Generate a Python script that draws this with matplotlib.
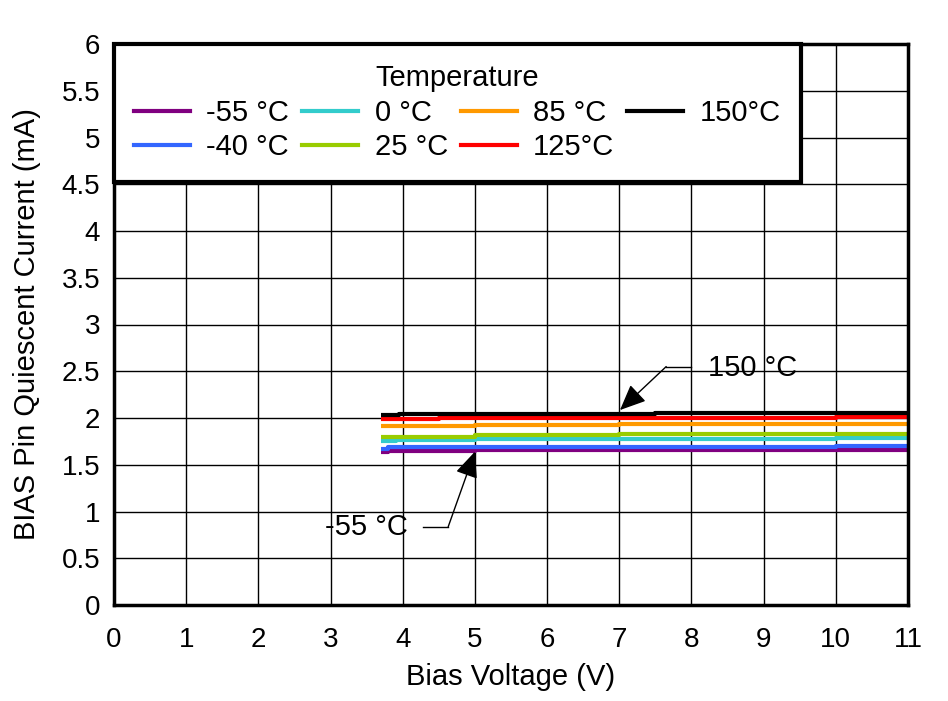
import matplotlib
matplotlib.use("Agg")
import matplotlib.pyplot as plt
from matplotlib.lines import Line2D

plt.rcParams['font.family'] = ['Liberation Sans', 'DejaVu Sans']

# Data (step-wise measured curves), x in V, y in mA
x_m55 = [3.7, 3.8, 5.0, 10.0, 11.0]
y_m55 = [1.636, 1.651, 1.658, 1.662, 1.662]
x_m40 = [3.7, 3.8, 10.0, 11.0]
y_m40 = [1.665, 1.685, 1.700, 1.700]
x_0 = [3.7, 3.9, 5.0, 10.0, 11.0]
y_0 = [1.754, 1.768, 1.775, 1.790, 1.790]
x_25 = [3.7, 5.0, 7.0, 11.0]
y_25 = [1.800, 1.815, 1.830, 1.830]
x_85 = [3.7, 5.0, 7.0, 11.0]
y_85 = [1.918, 1.930, 1.940, 1.940]
x_125 = [3.7, 4.5, 10.0, 11.0]
y_125 = [1.985, 2.005, 2.012, 2.012]
x_150 = [3.7, 3.95, 4.5, 7.5, 11.0]
y_150 = [2.030, 2.038, 2.046, 2.058, 2.058]

series = [
    ("-55 °C", x_m55, y_m55, "#800080"),
    ("-40 °C", x_m40, y_m40, "#3366FF"),
    ("0 °C", x_0, y_0, "#33CCCC"),
    ("25 °C", x_25, y_25, "#99CC00"),
    ("85 °C", x_85, y_85, "#FF9900"),
    ("125°C", x_125, y_125, "#FF0000"),
    ("150°C", x_150, y_150, "#000000"),
]

x_ticks = list(range(0, 12))
y_ticks = [0, 0.5, 1, 1.5, 2, 2.5, 3, 3.5, 4, 4.5, 5, 5.5, 6]
y_tick_labels = ["0", "0.5", "1", "1.5", "2", "2.5", "3", "3.5", "4", "4.5", "5", "5.5", "6"]

fig = plt.figure(figsize=(9.48, 7.01), dpi=100)
ax = fig.add_axes([114/948, 1-605/701, (908-114)/948, (605-44)/701])

for label, xs, ys, c in series:
    ax.plot(xs, ys, drawstyle='steps-post', color=c, lw=3.0, label=label,
            solid_capstyle='butt', zorder=3)

ax.set_xlim(0, 11)
ax.set_ylim(0, 6)
ax.set_xticks(x_ticks)
ax.set_yticks(y_ticks)
ax.set_yticklabels(y_tick_labels)
ax.tick_params(length=0, labelsize=20)
ax.tick_params(axis='x', pad=16)
ax.tick_params(axis='y', pad=10)
ax.grid(True, color='black', lw=1.0, zorder=1)
for s in ax.spines.values():
    s.set_linewidth(2.5)
    s.set_zorder(5)

ax.set_xlabel("Bias Voltage (V)", fontsize=21, labelpad=7)
ax.set_ylabel("BIAS Pin Quiescent Current (mA)", fontsize=21, labelpad=15)

handles = [Line2D([0], [0], color=c, lw=3.0) for _, _, _, c in series]
labels = [l for l, _, _, _ in series]
leg = ax.legend(handles, labels, title="Temperature", ncol=4, loc='upper left',
                bbox_to_anchor=(0, 1), borderaxespad=0, fontsize=21,
                title_fontsize=21, frameon=True, fancybox=False, framealpha=1,
                handlelength=1.92, handletextpad=0.55, columnspacing=0.45,
                labelspacing=0.22, borderpad=0.7)
leg.get_frame().set_edgecolor('black')
leg.get_frame().set_linewidth(3.0)
leg.set_zorder(6)

# Annotations
arrowprops = dict(arrowstyle='-|>,head_length=1.6,head_width=0.7', color='black',
                  lw=1.0, shrinkA=0, shrinkB=0)
ax.annotate("", xy=(7.01, 2.085), xytext=(7.65, 2.55), arrowprops=arrowprops, zorder=7)
ax.plot([7.65, 8.0], [2.55, 2.55], color='black', lw=1.0, zorder=7)
ax.text(8.23, 2.53, "150 °C", fontsize=21, va='center', ha='left', zorder=7)

ax.annotate("", xy=(5.0, 1.64), xytext=(4.63, 0.837), arrowprops=arrowprops, zorder=7)
ax.plot([4.28, 4.63], [0.837, 0.837], color='black', lw=1.0, zorder=7)
ax.text(4.07, 0.83, "-55 °C", fontsize=21, va='center', ha='right', zorder=7)

fig.savefig("out.png", dpi=100)
